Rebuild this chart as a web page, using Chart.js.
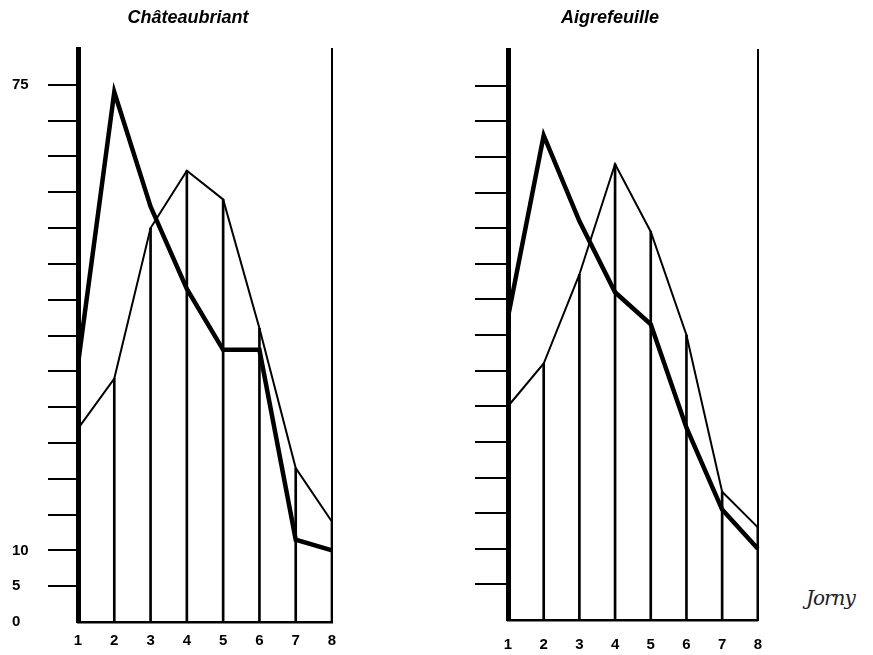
<!DOCTYPE html>
<html>
<head>
<meta charset="utf-8">
<script src="https://cdn.jsdelivr.net/npm/chart.js@4"></script>
<style>
  body{margin:0;background:#fff;width:873px;height:655px;position:relative;overflow:hidden;}
  canvas{position:absolute;top:0;}
  #sign{position:absolute;left:806px;top:586px;font:italic 20px "DejaVu Serif";color:#222;letter-spacing:-1px;}
</style>
</head>
<body>
<canvas id="chateau" width="364" height="655" style="left:0px"></canvas>
<canvas id="aigre" width="348" height="655" style="left:430px"></canvas>
<div id="sign">Jorny</div>
<script>
const days = ["1","2","3","4","5","6","7","8"];
const yLabels = [0,5,10,75];

// Châteaubriant
const chateauThick = [36, 74, 58, 46.5, 38, 38, 11.5, 10];
const chateauThin = [27, 34, 55, 63, 59, 41, 21.5, 14];

// Aigrefeuille
const aigreThick = [42.5, 68, 56, 46, 41.5, 27, 15.5, 10];
const aigreThin = [30, 36, 48.5, 64, 54.5, 40, 18, 13];

function makeChart(id, title, thick, thin, opt){
  return new Chart(document.getElementById(id),{
    data: {
      labels: days,
      datasets: [
        {
          type: "line",
          data: thick,
          borderColor: "#000",
          borderWidth: 4.5,
          pointRadius: 0,
          tension: 0
        },
        {
          type: "line",
          data: thin,
          borderColor: "#000",
          borderWidth: 2,
          pointRadius: 0,
          tension: 0
        },
        {
          type: "bar",
          data: thin,
          backgroundColor: "#000",
          barThickness: 2
        }
      ]
    },
    options: {
      responsive: false,
      animation: false,
      layout: {padding: {left: 12, right: 0, top: 0, bottom: 0}},
      plugins: {
        legend: {display: false},
        tooltip: {enabled: false},
        title: {
          display: true,
          text: title,
          color: "#000",
          font: {family: "Liberation Sans", size: 18, weight: "bold", style: "italic", lineHeight: 1.2},
          padding: {top: 7, bottom: opt.titleGap}
        }
      },
      scales: {
        x: {
          type: "category",
          offset: false,
          grid: {display: false, drawTicks: false},
          border: {display: true, color: "#000", width: 2.5},
          ticks: {
            color: "#000",
            padding: opt.xPad,
            autoSkip: false,
            maxRotation: 0,
            font: {family: "Liberation Sans", size: 15, weight: "bold"}
          },
          afterFit: s => { s.height = opt.xHeight; }
        },
        y: {
          type: "linear",
          position: "left",
          min: 0,
          max: 80,
          grid: {
            drawOnChartArea: false,
            tickLength: opt.tickLen,
            lineWidth: 2,
            color: ctx => (ctx.tick && (ctx.tick.value === 0 || ctx.tick.value === 80)) ? "rgba(0,0,0,0)" : "#000"
          },
          border: {display: true, color: "#000", width: 5},
          ticks: {
            stepSize: 5,
            color: "#000",
            crossAlign: "far",
            font: {family: "Liberation Sans", size: 15, weight: "bold"},
            callback: v => (opt.showLabels && yLabels.includes(v)) ? String(v) : ""
          },
          afterFit: s => { s.width = 66; }
        },
        y2: {
          type: "linear",
          position: "right",
          min: 0,
          max: 80,
          grid: {drawOnChartArea: false, drawTicks: false},
          border: {display: true, color: "#000", width: 2},
          ticks: {display: false},
          afterFit: s => { s.width = opt.rightWidth; }
        }
      }
    }
  });
}

makeChart("chateau", "Châteaubriant", chateauThick, chateauThin,
  {titleGap: 20.4, xPad: 10, xHeight: 33, tickLen: 30, rightWidth: 32, showLabels: true});
makeChart("aigre", "Aigrefeuille", aigreThick, aigreThin,
  {titleGap: 21.4, xPad: 16, xHeight: 35, tickLen: 33, rightWidth: 10, showLabels: false});
</script>
</body>
</html>
